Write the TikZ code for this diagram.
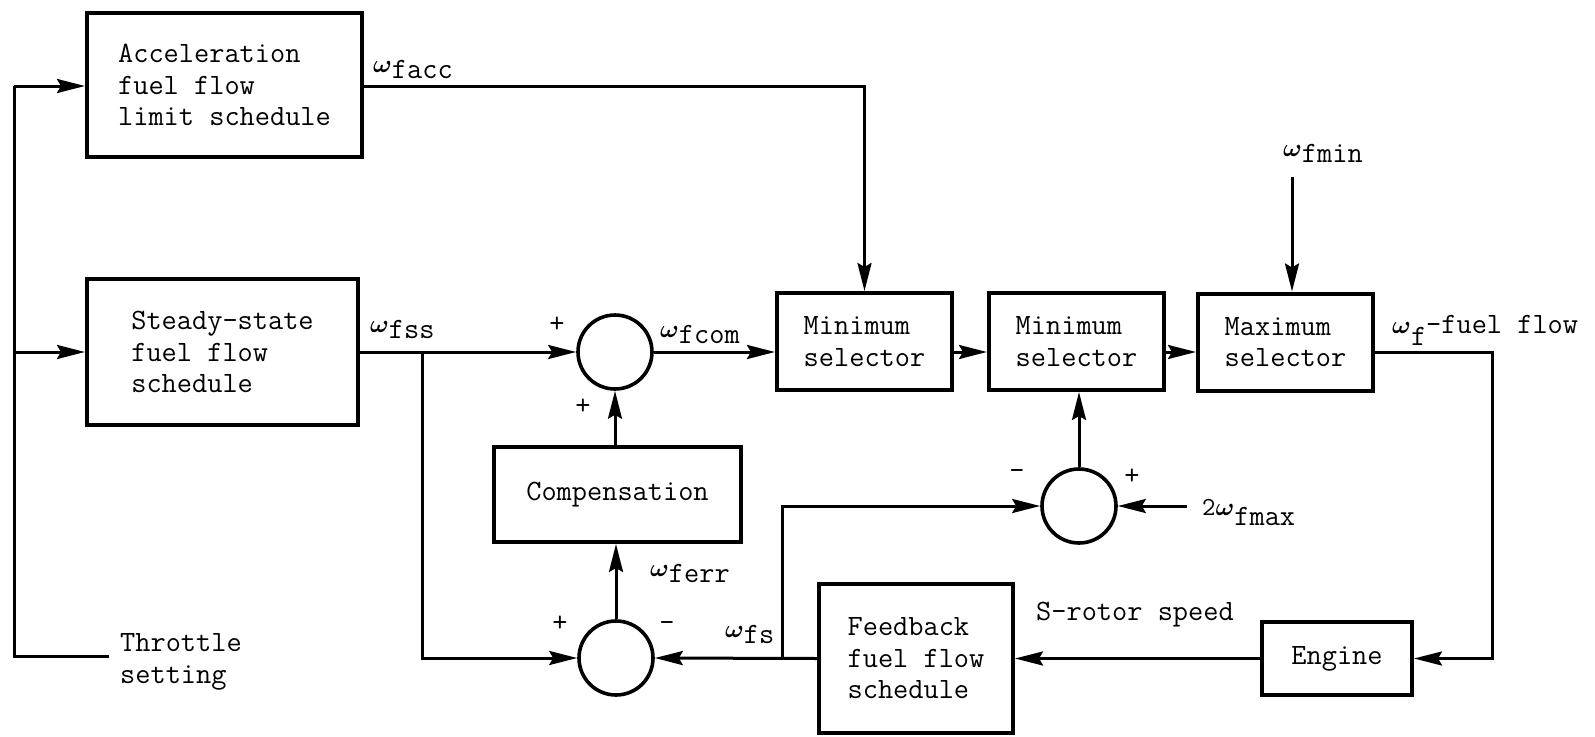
\documentclass[tikz,border=0pt]{standalone}
\usepackage{fontspec}
\usetikzlibrary{arrows.meta,calc}
\newcommand{\om}{\raisebox{6pt}{\fontsize{23}{23}\selectfont$\boldsymbol{\omega}$}}
\usepackage{amsmath}
\begin{document}
\begin{tikzpicture}[x=1pt,y=-1pt,
  font=\fontsize{29.5}{31.5}\selectfont\ttfamily\addfontfeatures{FakeBold=0.6},
  blk/.style={draw, line width=4pt, inner sep=0pt, align=left},
  sumc/.style={draw, circle, line width=3.6pt, minimum size=74pt, inner sep=0pt},
  conn/.style={line width=3pt},
  arr/.style={conn, -{Stealth[length=28pt,width=14pt,inset=4pt]}},
  lbl/.style={inner sep=0pt, anchor=base west},
  sgn/.style={inner sep=0pt}]
\useasboundingbox (0,0) rectangle (1595,736);

% blocks
\node[blk, minimum width=275pt, minimum height=144pt] (acc) at (224.5,85) {Acceleration\\fuel flow\\limit schedule};
\node[blk, minimum width=271pt, minimum height=146pt] (steady) at (222.5,352) {Steady-state\\fuel flow\\schedule};
\node[blk, minimum width=247pt, minimum height=95pt] (comp) at (617.5,494.5) {Compensation};
\node[blk, minimum width=175pt, minimum height=97pt] (min1) at (864.5,341.5) {Minimum\\selector};
\node[blk, minimum width=175pt, minimum height=97pt] (min2) at (1076.5,341.5) {Minimum\\selector};
\node[blk, minimum width=175pt, minimum height=97pt] (max) at (1285.5,342) {Maximum\\selector};
\node[blk, minimum width=150pt, minimum height=73pt] (engine) at (1337,658.5) {Engine};
\node[blk, minimum width=194pt, minimum height=149pt] (fb) at (916,658.5) {Feedback\\fuel flow\\schedule};

% summing junctions
\node[sumc] (s1) at (615,352) {};
\node[sumc] (s2) at (616,658) {};
\node[sumc] (s3) at (1079,506) {};

% coordinates
\coordinate (tl) at (14,86);
\coordinate (tb) at (14,656);
\coordinate (te) at (109,656);
\coordinate (tm) at (14,352);
\coordinate (br1) at (422,352);
\coordinate (br2) at (782,658);
\coordinate (rc) at (1492,352);
\coordinate (fmint) at (1292,177);
\coordinate (fmaxs) at (1187,506);

% connectors
\draw[conn] (te) -- (tb) -- (tl);
\draw[arr] (tl) -- (tl -| acc.west);
\draw[arr] (tm) -- (tm -| steady.west);
\draw[arr] (tl -| acc.east) -| (min1.north);
\draw[arr] (steady.east) -- (s1.west);
\draw[arr] (br1) |- (s2.west);
\draw[arr] (s1.east) -- (s1.east -| min1.west);
\draw[arr] (s1 -| min1.east) -- (s1 -| min2.west);
\draw[arr] (s1 -| min2.east) -- (s1 -| max.west);
\draw[arr] (s1 -| max.east) -- (rc) |- (engine.east);
\draw[arr] (fmint) -- (fmint |- max.north);
\draw[arr] (engine.west) -- (engine.west -| fb.east);
\draw[arr] (fb.west) -- (s2.east);
\draw[arr] (br2) |- (s3.west);
\draw[arr] (fmaxs) -- (s3.east);
\draw[arr] (s3.north) -- (s3.north |- min2.south);
\draw[arr] (s2.north) -- (s2.north |- comp.south);
\draw[arr] (comp.north -| s1) -- (s1.south);

% labels
\node[lbl] (lfacc) at (373,78) {\om facc};
\node[lbl] (lfss) at (370,338) {\om fss};
\node[lbl] (lfcom) at (660,343) {\om fcom};
\node[lbl] (lferr) at (650,582) {\om ferr};
\node[lbl] (lfs) at (725,643) {\om fs};
\node[lbl] (lfmin) at (1283,162) {\om fmin};
\node[lbl] (lfmax) at (1202,525) {\raisebox{10pt}{\fontsize{26}{26}\selectfont 2$\boldsymbol{\omega}$}fmax};
\node[lbl] (lwf) at (1392,333) {{\fontsize{33}{33}\selectfont$\boldsymbol{\omega}$}\raisebox{-12pt}{f}-fuel flow};
\node[lbl] (lsrot) at (1036,620) {S-rotor speed};
\node[inner sep=0pt, anchor=west, align=left] (lthr) at (120,662) {Throttle\\setting};

% signs
\node[sgn] (p1) at (557,325) {+};
\node[sgn] (p2) at (583,407) {+};
\node[sgn] (p3) at (560,624) {+};
\node[sgn] (m3) at (667,627) {-};
\node[sgn] (m4) at (1017,475) {-};
\node[sgn] (p4) at (1132,477) {+};
\end{tikzpicture}
\end{document}
